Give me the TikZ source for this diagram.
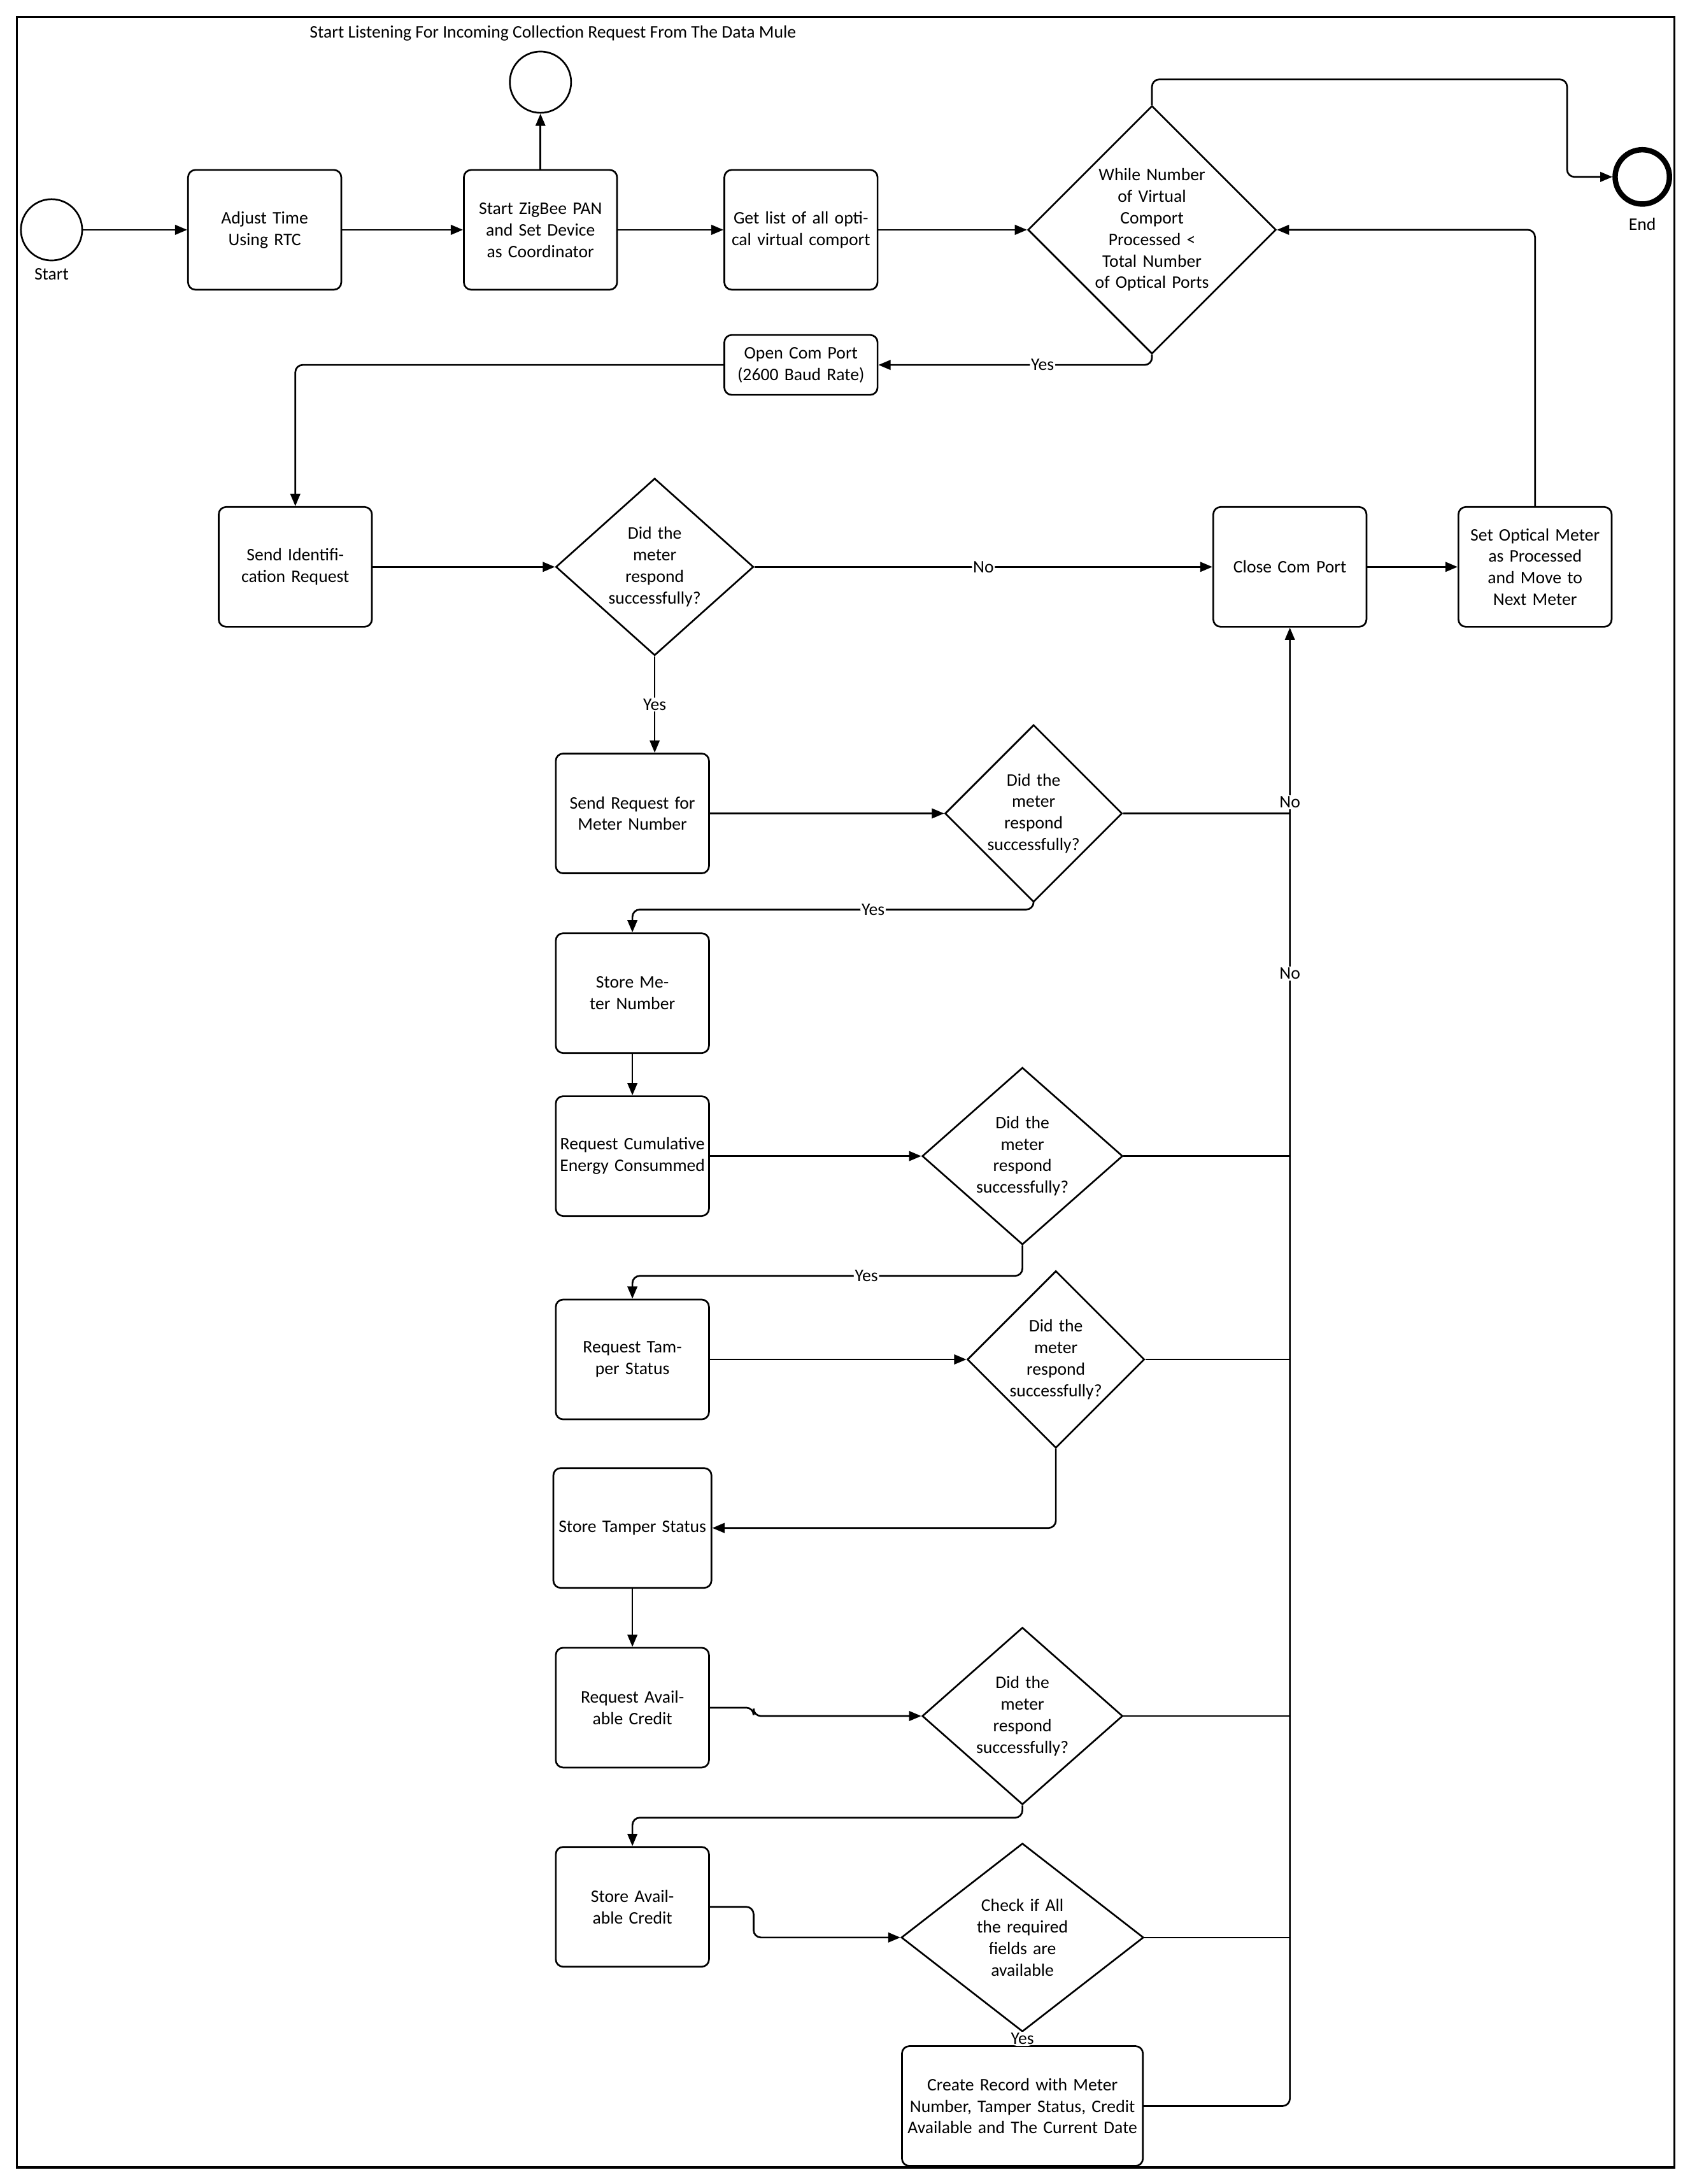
\documentclass[tikz,border=0pt]{standalone}
\usepackage{fontspec}
\setmainfont{Carlito}
\usetikzlibrary{shapes.geometric,arrows.meta}
\tikzset{
  box/.style={draw,rounded corners=3pt,line width=0.7pt,minimum width=2.2cm,minimum height=1.72cm,align=center,text width=2.1cm,inner sep=1pt},
  dec/.style={draw,diamond,line width=0.7pt,align=center,inner sep=0pt,aspect=1},
  evt/.style={draw,circle,line width=0.7pt,minimum size=0.88cm},
  lbl/.style={fill=white,inner sep=0.5pt},
  flow/.style={line width=0.7pt,-{Triangle[length=5pt,width=4pt]},rounded corners=3pt},
  noline/.style={line width=0.7pt,rounded corners=3pt}
}
\begin{document}
\begin{tikzpicture}[x=0.02cm,y=-0.02cm,font=\fontsize{7.2}{8.8}\selectfont]
	\useasboundingbox (0,0) rectangle (1213,1568);
	\draw[line width=0.9pt] (12,12) rectangle (1202,1556);

	% top row
	\node[evt] (start) at (37,165) {};
	\node (startl) at (37,197) {Start};
	\node[box] (adjust) at (190,165) {Adjust Time Using RTC};
	\node[box] (zigbee) at (388,165) {Start ZigBee PAN and Set Device as Coordinator};
	\node[evt] (listen) at (388,59) {};
	\node (listenl) at (397,24) {Start Listening For Incoming Collection Request From The Data Mule};
	\node[box] (getlist) at (575,165) {Get list of all optical virtual comport};
	\node[dec,minimum width=3.52cm,minimum height=3.04cm,text width=1.8cm] (loop) at (827,165) {While Number of Virtual Comport Processed {<} Total Number of Optical Ports};
	\node[evt,line width=2.2pt,minimum size=0.78cm] (end) at (1179,127) {};
	\node (endl) at (1179,161) {End};
	\node[box,minimum height=0.86cm] (open) at (575,262) {Open Com Port (2600 Baud Rate)};

	% identification
	\node[box] (ident) at (212,407) {Send Identification Request};
	\node[dec,minimum width=2.84cm,minimum height=2.44cm,text width=1.4cm] (d2) at (470,407) {Did the meter respond successfully?};
	\node[box] (close) at (926,407) {Close Com Port};
	\node[box] (setopt) at (1102,407) {Set Optical Meter as Processed and Move to Next Meter};

	% meter readings
	\node[box] (reqnum) at (454,584) {Send Request for Meter Number};
	\node[dec,minimum width=2.52cm,minimum height=2cm,text width=1.4cm] (d3) at (742,584) {Did the meter respond successfully?};
	\node[box] (storenum) at (454,713) {Store Meter Number};
	\node[box] (reqcum) at (454,830) {Request Cumulative Energy Consummed};
	\node[dec,minimum width=2.88cm,minimum height=2.44cm,text width=1.4cm] (d4) at (734,830) {Did the meter respond successfully?};
	\node[box] (reqtam) at (454,976) {Request Tamper Status};
	\node[dec,minimum width=2.52cm,minimum height=2cm,text width=1.4cm] (d5) at (758,976) {Did the meter respond successfully?};
	\node[box,text width=2.2cm] (storetam) at (454,1097) {Store Tamper Status};
	\node[box] (reqcred) at (454,1226) {Request Available Credit};
	\node[dec,minimum width=2.88cm,minimum height=2cm,text width=1.4cm] (d6) at (734,1232) {Did the meter respond successfully?};
	\node[box] (storecred) at (454,1369) {Store Available Credit};
	\node[dec,minimum width=3.48cm,minimum height=1.76cm,text width=1.6cm] (d7) at (734,1391) {Check if All the required fields are available};
	\node[box,minimum width=3.46cm,text width=3.3cm] (record) at (734,1512) {Create Record with Meter Number, Tamper Status, Credit Available and The Current Date};

	\coordinate (c3) at (926,584);
	\coordinate (c4) at (926,830);
	\coordinate (c5) at (926,976);
	\coordinate (c6) at (926,1232);
	\coordinate (c7) at (926,1391);

	\draw[flow] (start) -- (adjust);
	\draw[flow] (adjust) -- (zigbee);
	\draw[flow] (zigbee) -- (listen);
	\draw[flow] (zigbee) -- (getlist);
	\draw[flow] (getlist) -- (loop);
	\draw[flow] (loop.north) |- (1125,57) |- (end);
	\draw[flow] (loop.south) |- node[lbl,pos=0.7]{Yes} (open);
	\draw[flow] (open.west) -| (ident.north);
	\draw[flow] (ident) -- (d2);
	\draw[flow] (d2) -- node[lbl]{No} (close);
	\draw[flow] (close) -- (setopt);
	\draw[flow] (setopt.north) |- (loop.east);
	\draw[flow] (d2.south) -- node[lbl]{Yes} (d2.south |- reqnum.north);
	\draw[flow] (reqnum) -- (d3);
	\draw[flow] (d3.south) |- node[lbl,pos=0.7]{Yes} (454,653) -- (storenum.north);
	\draw[flow] (storenum) -- (reqcum);
	\draw[flow] (reqcum) -- (d4);
	\draw[flow] (d4.south) |- node[lbl,pos=0.7]{Yes} (454,916) -- (reqtam.north);
	\draw[flow] (reqtam) -- (d5);
	\draw[flow] (d5.south) |- (storetam.east);
	\draw[flow] (storetam) -- (reqcred);
	\draw[flow] (reqcred.east) -| (541,1232) -- (d6.west);
	\draw[flow] (d6.south) |- (454,1305) -- (storecred.north);
	\draw[flow] (storecred.east) -| (541,1391) -- (d7.west);
	\draw[flow] (d7.south) -- node[lbl]{Yes} (record.north);

	% failures back to close com port
	\draw[noline] (d3.east) -- (c3);
	\draw[noline] (d4.east) -- (c4);
	\draw[noline] (d5.east) -- (c5);
	\draw[noline] (d6.east) -- (c6);
	\draw[noline] (d7.east) -- (c7);
	\draw[flow] (record.east) -| (close.south);
	\node[lbl] (no1) at (926,576) {No};
	\node[lbl] (no2) at (926,699) {No};
\end{tikzpicture}
\end{document}
